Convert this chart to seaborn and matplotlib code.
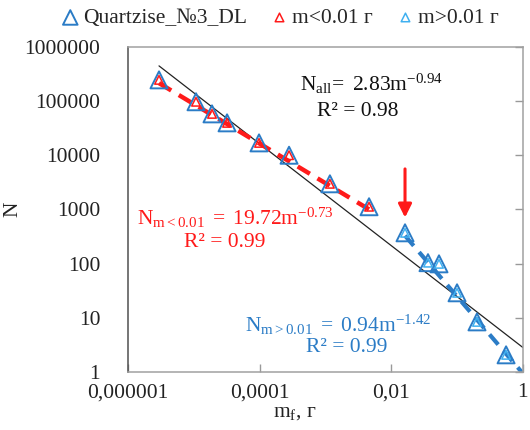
import numpy as np
import pandas as pd
import matplotlib.pyplot as plt
import seaborn as sns
from matplotlib.ticker import FixedLocator, FixedFormatter, NullLocator

# fragment mass (g) and cumulative number of fragments
mass = [2.96e-6, 1.08e-5, 1.89e-5, 3.2e-5, 9.8e-5, 2.8e-4, 1.17e-3, 4.6e-3,
        0.0162, 0.0362, 0.0532, 0.1, 0.201, 0.556]
count = [246000, 97000, 58000, 39600, 16900, 10000, 2970, 1120,
         370, 104, 99, 28.9, 8.4, 2.07]

# power-law fits N = a * m^b as shown in the labels
fit_all = (2.83, -0.94)
fit_small = (19.72, -0.73)
fit_large = (0.94, -1.42)
r2_all, r2_small, r2_large = 0.98, 0.99, 0.99

x_ticks = [1e-6, 1e-4, 1e-2, 1]
x_tick_labels = ['0,000001', '0,0001', '0,01', '1']
y_ticks = [1, 10, 100, 1000, 10000, 100000, 1000000]
y_tick_labels = ['1', '10', '100', '1000', '10000', '100000', '1000000']

BLUE = '#2b7cc6'
LIGHT_BLUE = '#3fb0f0'
RED = '#ff1a1a'
FS = 15.5

sns.set_theme(style="white")
plt.rcParams['font.family'] = ['Liberation Serif', 'DejaVu Serif']
plt.rcParams['mathtext.fontset'] = 'custom'
plt.rcParams['mathtext.rm'] = 'Liberation Serif'
plt.rcParams['mathtext.it'] = 'Liberation Serif:italic'

df = pd.DataFrame({'m': mass, 'N': count})
small = df[df['m'] < 0.01]
large = df[df['m'] > 0.01]

fig = plt.figure(figsize=(5.3, 4.3), dpi=100)
ax = fig.add_axes([0.2415, 0.135, 0.745, 0.756])
ax.set_xscale('log')
ax.set_yscale('log')


def power_line(fit, x0, x1):
    xs = np.array([x0, x1])
    return pd.DataFrame({'m': xs, 'N': fit[0] * xs ** fit[1]})


# trend lines
sns.lineplot(data=power_line(fit_all, df['m'].min(), 1), x='m', y='N',
             color='#222222', lw=0.9, ax=ax)
sns.lineplot(data=power_line(fit_small, small['m'].min(), small['m'].max()),
             x='m', y='N', color=RED, lw=3.2, ax=ax)
ax.lines[-1].set_dashes((3.2, 2.0))
sns.lineplot(data=power_line(fit_large, large['m'].min(), 1),
             x='m', y='N', color=BLUE, lw=3.0, ax=ax)
ax.lines[-1].set_dashes((3.2, 2.0))

# markers
sns.scatterplot(data=df, x='m', y='N', marker='^', s=150, linewidth=1.4,
                edgecolor=BLUE, label='Quartzise_№3_DL', ax=ax, zorder=5)
ax.collections[-1].set_facecolor('none')
ax.collections[-1].set_edgecolor(BLUE)
sns.scatterplot(data=small, x='m', y='N', marker='^', s=38, linewidth=1.1,
                edgecolor=RED, label='m<0.01 г', ax=ax, zorder=6)
ax.collections[-1].set_facecolor('none')
ax.collections[-1].set_edgecolor(RED)
sns.scatterplot(data=large, x='m', y='N', marker='^', s=38, linewidth=1.1,
                edgecolor=LIGHT_BLUE, label='m>0.01 г', ax=ax, zorder=6)
ax.collections[-1].set_facecolor('none')
ax.collections[-1].set_edgecolor(LIGHT_BLUE)

handles, labels = ax.get_legend_handles_labels()
ax.get_legend().remove()
leg = fig.legend(handles, labels, loc='center', bbox_to_anchor=(0.525, 0.958), ncol=3,
                 frameon=False, fontsize=FS, handletextpad=0.0, columnspacing=0.9,
                 borderaxespad=0, handlelength=1.2)
leg.legend_handles[0].set_sizes([110])

# arrow marking the break point
m_break = large['m'].iloc[0]
n_break = large['N'].iloc[0]
ax.annotate('', xy=(m_break, n_break * 1.7), xytext=(m_break, n_break * 17),
            arrowprops=dict(arrowstyle='-|>', color=RED, lw=2.2, mutation_scale=20))

# equations
ax.text(0.435, 0.887, r'$\mathrm{N_{all}\!=\ %.2fm^{%.2f}}$' % fit_all,
        transform=ax.transAxes, fontsize=FS, color='#111111', va='center', ha='left')
ax.text(0.582, 0.80, 'R² = %.2f' % r2_all, transform=ax.transAxes,
        fontsize=FS, color='#111111', va='center', ha='center')
ax.text(0.023, 0.474, r'$\mathrm{N_{m<0.01}\ =\ %.2fm^{%.2f}}$' % fit_small,
        transform=ax.transAxes, fontsize=FS, color=RED, va='center', ha='left')
ax.text(0.246, 0.397, 'R² = %.2f' % r2_small, transform=ax.transAxes,
        fontsize=FS, color=RED, va='center', ha='center')
ax.text(0.296, 0.145, r'$\mathrm{N_{m>0.01}\ =\ %.2fm^{%.2f}}$' % fit_large,
        transform=ax.transAxes, fontsize=FS, color=BLUE, va='center', ha='left')
ax.text(0.554, 0.074, 'R² = %.2f' % r2_large, transform=ax.transAxes,
        fontsize=FS, color=BLUE, va='center', ha='center')

# axes styling
ax.set_xlim(1e-6, 1)
ax.set_ylim(1, 1e6)
ax.xaxis.set_major_locator(FixedLocator(x_ticks))
ax.xaxis.set_major_formatter(FixedFormatter(x_tick_labels))
ax.xaxis.set_minor_locator(NullLocator())
ax.yaxis.set_major_locator(FixedLocator(y_ticks))
ax.yaxis.set_major_formatter(FixedFormatter(y_tick_labels))
ax.yaxis.set_minor_locator(NullLocator())
ax.tick_params(axis='x', direction='in', length=6, width=1, color='#999999',
               labelsize=FS, pad=8, labelcolor='#222222', bottom=True)
ax.tick_params(axis='y', direction='in', length=6, width=1, color='#999999',
               labelsize=FS, pad=20, labelcolor='#222222',
               left=False, right=True, labelleft=True, labelright=False)
for side in ['top', 'right', 'bottom']:
    ax.spines[side].set_color('#a0a0a0')
    ax.spines[side].set_linewidth(1.1)
ax.spines['left'].set_color('#505050')
ax.spines['left'].set_linewidth(1.1)

ax.set_xlabel(r'$\mathrm{m_f}$, г', fontsize=FS, color='#222222')
ax.xaxis.set_label_coords(0.423, -0.097)
ax.set_ylabel('N', fontsize=FS, color='#222222')
ax.yaxis.set_label_coords(-0.268, 0.5)

fig.savefig('out.png', dpi=100)
